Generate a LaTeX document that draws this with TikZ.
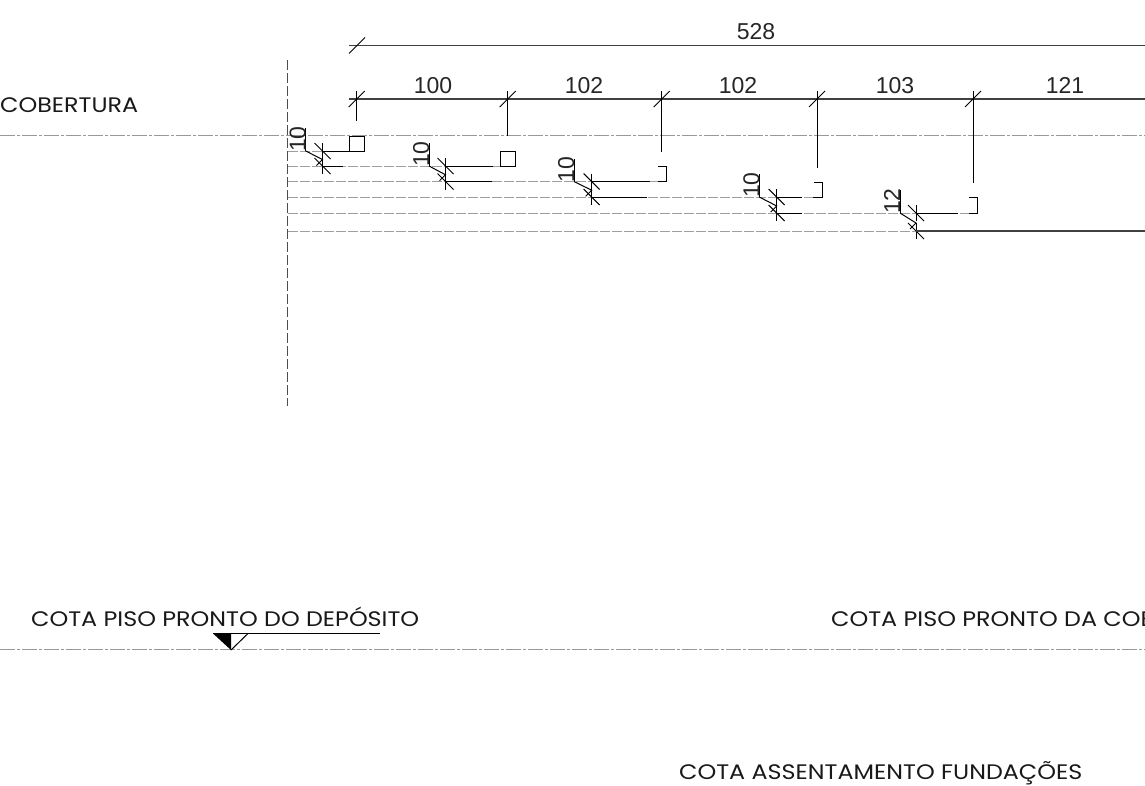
\documentclass[tikz,border=0pt]{standalone}
\usepackage{fontspec}
\setmainfont[FakeStretch=1.135]{Poppins}
\newfontfamily\dimfont{Liberation Sans}
\usetikzlibrary{calc}
\tikzset{
    levelline/.style={gray!75, line width=.9pt, dash pattern=on 10pt off 2pt},
    axisline/.style={gray!80, line width=.9pt, dash pattern=on 15pt off 2pt on 3pt off 2pt},
    dimline/.style={black!75, line width=1.3pt},
    thinline/.style={black, line width=1pt},
    dimlabel/.style={font=\dimfont\fontsize{23}{23}\selectfont, text=black!85, inner sep=0pt},
    levellabel/.style={font=\fontsize{21}{23}\selectfont, text=black!90, inner sep=0pt, anchor=base west}
}
\begin{document}
\begin{tikzpicture}[x=1pt, y=-1pt]
    \useasboundingbox (0,0) rectangle (1145,785);
    % level lines
    \draw[axisline] (0,135.5) -- (1145,135.5);
    \draw[axisline] (0,649.5) -- (1145,649.5);
    \draw[black!70, line width=1pt, dash pattern=on 10pt off 3pt] (287.5,60) -- (287.5,406);
    \foreach \ya/\xb in {151/322,166/500,181.5/658,197/813,213/969,231/916} {
        \draw[levelline] (287.5,\ya) -- (\xb,\ya);
    }
    % overall dimension
    \draw[dimline] (349,45.5) -- (1145,45.5);
    \draw[thinline] (349,53.5) -- (365,37.5);
    \node[dimlabel] (total) at (756,31.5) {528};
    % spans
    \draw[dimline] (349,99) -- (1145,99);
    \foreach \x/\yb in {356.7/120.5,507.7/135.5,661.7/151.5,817/167.5,973/182.5} {
        \draw[thinline] (\x,91) -- (\x,\yb);
        \draw[thinline] (\x-8,107) -- (\x+8,91);
    }
    \foreach \x/\txt/\name in {433/100/spana,584/102/spanb,738/102/spanc,895/103/spand,1065/121/spane} {
        \node[dimlabel] (\name) at (\x,85.5) {\txt};
    }
    % steps
    \foreach \cx/\tx/\ya/\yb/\txt/\name in {305.7/322.5/151/166/10/stepa,429/445.5/166/181.5/10/stepb,574/591.7/181.5/197/10/stepc,759.3/776.7/197/213/10/stepd,900/916/213/231/12/stepe} {
        \draw[thinline] (\cx,\ya) -- (\cx,\ya-23);
        \draw[thinline] (\cx,\ya) -- (\tx,{(\ya+\yb)/2+1}) -- (\tx-6,{(\ya+\yb)/2+7});
        \foreach \yy in {\ya,\yb} {
            \draw[thinline] (\tx,\yy-8) -- (\tx,\yy+8);
            \draw[thinline] (\tx-8,\yy-8) -- (\tx+8,\yy+8);
        }
        \node[dimlabel, rotate=90, anchor=base west] (\name) at (\cx,\ya+1) {\txt};
    }
    % treads
    \draw[thinline] (322.5,151) -- (349.5,151);
    \draw[thinline] (322.5,166) -- (343,166);
    \draw[thinline] (445.5,166) -- (493,166);
    \draw[thinline] (445.5,181.5) -- (492,181.5);
    \draw[thinline] (591.7,181.5) -- (650,181.5);
    \draw[thinline] (591.7,197) -- (647,197);
    \draw[thinline] (776.7,197) -- (802,197);
    \draw[thinline] (776.7,213) -- (802,213);
    \draw[thinline] (916,213) -- (958,213);
    \draw[dimline] (916,231) -- (1145,231);
    % sections
    \draw[thinline] (349.5,136) rectangle (364.5,151);
    \draw[thinline] (500,151) rectangle (515.5,166);
    \draw[thinline] (658,166.5) -- (666,166.5) -- (666,181.5) -- (658,181.5);
    \draw[thinline] (814,182.5) -- (822,182.5) -- (822,197) -- (813,197);
    \draw[thinline] (969,197.5) -- (977,197.5) -- (977,213) -- (969,213);
    % level marks
    \node[levellabel] (cobertura) at (0,112) {COBERTURA};
    \node[levellabel] (deposito) at (31,626) {COTA PISO PRONTO DO DEPÓSITO};
    \node[levellabel] (coberturb) at (831,626) {COTA PISO PRONTO DA COB};
    \node[levellabel] (fundacoes) at (679,779) {COTA ASSENTAMENTO FUNDAÇÕES};
    \draw[thinline] (213,633.5) -- (380,633.5);
    \fill[black] (213,633.5) -- (231,650) -- (231,633.5) -- cycle;
    \draw[thinline] (231,650) -- (248,633.5);
\end{tikzpicture}
\end{document}
